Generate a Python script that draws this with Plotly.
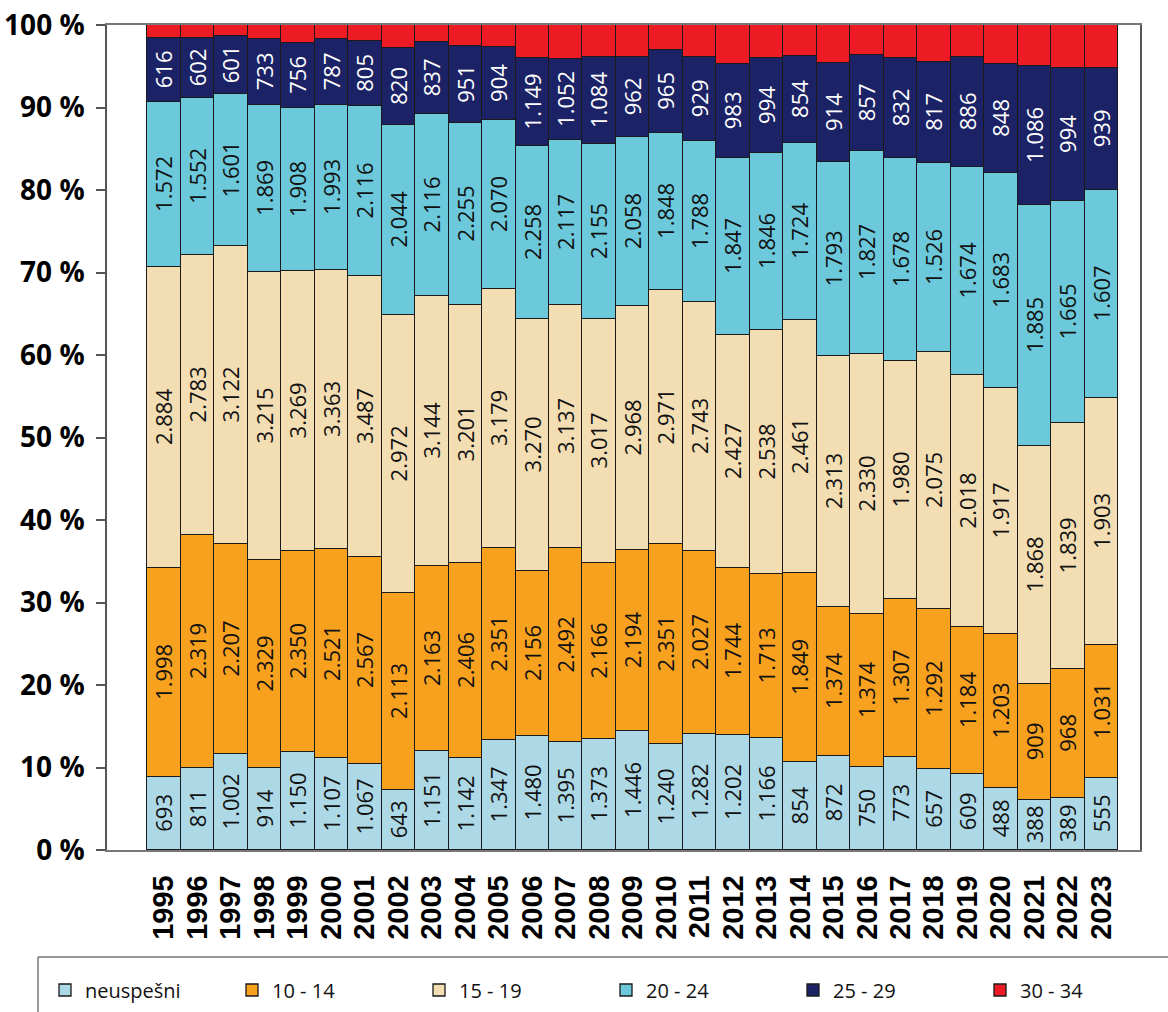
import plotly.graph_objects as go

years = [str(y) for y in range(1995, 2024)]

neuspesni = [693, 811, 1002, 914, 1150, 1107, 1067, 643, 1151, 1142, 1347, 1480, 1395, 1373, 1446,
             1240, 1282, 1202, 1166, 854, 872, 750, 773, 657, 609, 488, 388, 389, 555]
s10_14 = [1998, 2319, 2207, 2329, 2350, 2521, 2567, 2113, 2163, 2406, 2351, 2156, 2492, 2166, 2194,
          2351, 2027, 1744, 1713, 1849, 1374, 1374, 1307, 1292, 1184, 1203, 909, 968, 1031]
s15_19 = [2884, 2783, 3122, 3215, 3269, 3363, 3487, 2972, 3144, 3201, 3179, 3270, 3137, 3017, 2968,
          2971, 2743, 2427, 2538, 2461, 2313, 2330, 1980, 2075, 2018, 1917, 1868, 1839, 1903]
s20_24 = [1572, 1552, 1601, 1869, 1908, 1993, 2116, 2044, 2116, 2255, 2070, 2258, 2117, 2155, 2058,
          1848, 1788, 1847, 1846, 1724, 1793, 1827, 1678, 1526, 1674, 1683, 1885, 1665, 1607]
s25_29 = [616, 602, 601, 733, 756, 787, 805, 820, 837, 951, 904, 1149, 1052, 1084, 962,
          965, 929, 983, 994, 854, 914, 857, 832, 817, 886, 848, 1086, 994, 939]
# not labelled in the source
s30_34 = [121, 126, 119, 159, 214, 172, 194, 247, 202, 261, 266, 425, 434, 391, 393,
          297, 350, 404, 340, 299, 348, 272, 274, 297, 254, 305, 324, 324, 334]

series_names = ["neuspešni", "10 - 14", "15 - 19", "20 - 24", "25 - 29", "30 - 34"]
series_values = [neuspesni, s10_14, s15_19, s20_24, s25_29, s30_34]
colors = ["#ADD8E6", "#F8A11F", "#F3DDB3", "#6BC9DB", "#1C2266", "#ED1C24"]
text_colors = ["#111111", "#111111", "#111111", "#111111", "#FFFFFF", "#FFFFFF"]
show_text = [True, True, True, True, True, False]

y_ticks = list(range(0, 101, 10))
y_ticktext = [f"{v} %" for v in y_ticks]


def fmt(v):
    return f"{v:,}".replace(",", ".")


fig = go.Figure()
for name, vals, col, tcol, st in zip(series_names, series_values, colors, text_colors, show_text):
    fig.add_trace(go.Bar(
        x=years, y=vals, name=name,
        marker=dict(color=col, line=dict(color="#1a1a1a", width=1.3)),
        text=[fmt(v) for v in vals] if st else None,
        texttemplate="%{text}" if st else None,
        textposition="inside" if st else "none",
        insidetextanchor="middle",
        textangle=-90,
        insidetextfont=dict(family="Open Sans", size=22, color=tcol, weight=500),
        hoverinfo="x+y+name",
    ))

W, H = 1168, 1012
plot_left, plot_right, plot_top, plot_bottom = 107, 1140, 25, 850
L, R, T, B = plot_left, W - plot_right, plot_top, H - plot_bottom
pw, ph = plot_right - plot_left, plot_bottom - plot_top


def px_x(x):
    """screen x -> paper x"""
    return (x - L) / pw


def px_y(y):
    """screen y -> paper y"""
    return (plot_bottom - y) / ph


fig.update_layout(
    width=W, height=H,
    barmode="stack", barnorm="percent", bargap=0,
    plot_bgcolor="white", paper_bgcolor="white",
    margin=dict(l=L, r=R, t=T, b=B, autoexpand=False),
    uniformtext=dict(minsize=22, mode="show"),
    showlegend=True,
    legend=dict(
        orientation="h", x=px_x(45), xanchor="left", y=px_y(990), yanchor="middle",
        font=dict(family="Open Sans", size=20, color="#111111"),
        entrywidth=142, entrywidthmode="pixels",
        bgcolor="rgba(0,0,0,0)", borderwidth=0, traceorder="normal",
    ),
    shapes=[
        dict(type="line", xref="paper", yref="paper", x0=px_x(38), x1=px_x(1168),
             y0=px_y(957), y1=px_y(957), line=dict(color="#777777", width=1.5)),
        dict(type="line", xref="paper", yref="paper", x0=px_x(38), x1=px_x(38),
             y0=px_y(957), y1=px_y(1012), line=dict(color="#777777", width=1.5)),
    ],
)

fig.update_xaxes(
    type="category", range=[-1.7, 29.15],
    tickmode="array", tickvals=years, ticktext=years,
    tickangle=-90, tickfont=dict(family="Liberation Sans", size=29, color="#000000", weight="bold"),
    showline=True, linecolor="#777777", linewidth=1.5, mirror=True,
    ticks="", showgrid=False, ticklabelstandoff=12, automargin=False,
    ticklabeloverflow="allow",
)
fig.update_yaxes(
    range=[0, 100], tickvals=y_ticks, ticktext=y_ticktext,
    tickfont=dict(family="Open Sans", size=28, color="#000000", weight="bold"),
    showline=True, linecolor="#555555", linewidth=1.5, mirror=True,
    ticks="outside", ticklen=9, tickcolor="#555555", tickwidth=1.5,
    showgrid=False, zeroline=False, ticklabelstandoff=6, automargin=False,
    ticklabeloverflow="allow",
)

# remove the default 8px page margin so the figure fills the window exactly
fig.write_html(
    "out.html",
    config={"displayModeBar": False},
    post_script="document.body.style.margin='0';document.body.style.overflow='hidden';",
)
